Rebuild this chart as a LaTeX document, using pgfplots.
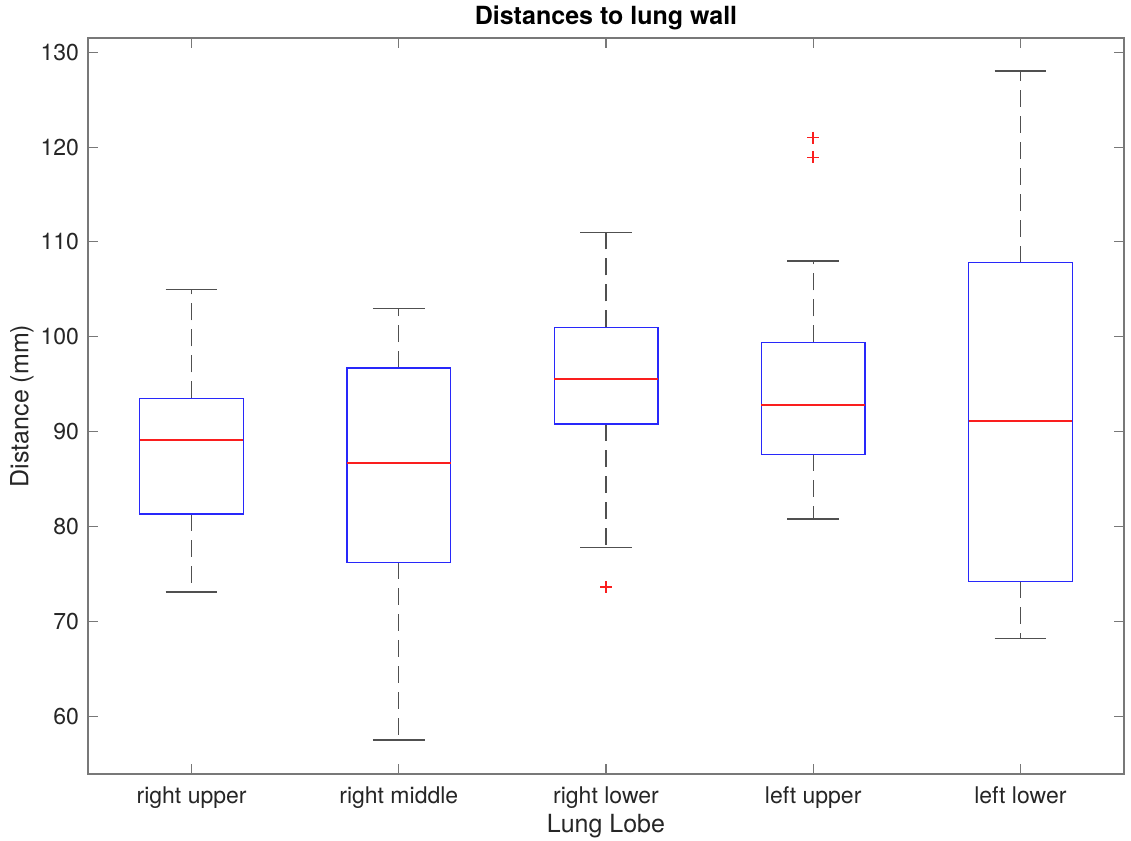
\documentclass[border=0pt]{standalone}
\usepackage{fontspec}
\setmainfont{TeX Gyre Heros}
\usepackage{pgfplots}
\pgfplotsset{compat=1.18}
\usepgfplotslibrary{statistics}
\definecolor{boxblue}{RGB}{40,40,250}
\definecolor{medred}{RGB}{250,30,30}
\definecolor{axgray}{RGB}{120,120,120}
\definecolor{whisk}{RGB}{80,80,80}

\pgfplotsset{
  % dashed whisker stem, solid cap
  boxplot/draw/lower whisker/.code={%
    \draw[whisk, line width=0.7pt, dash pattern=on 8.5pt off 4.5pt]
      (boxplot box cs:\pgfplotsboxplotvalue{lower quartile},0.5) --
      (boxplot box cs:\pgfplotsboxplotvalue{lower whisker},0.5);
    \draw[whisk, line width=0.7pt]
      (boxplot whisker cs:\pgfplotsboxplotvalue{lower whisker},0) --
      (boxplot whisker cs:\pgfplotsboxplotvalue{lower whisker},1);
  },
  boxplot/draw/upper whisker/.code={%
    \draw[whisk, line width=0.7pt, dash pattern=on 8.5pt off 4.5pt]
      (boxplot box cs:\pgfplotsboxplotvalue{upper quartile},0.5) --
      (boxplot box cs:\pgfplotsboxplotvalue{upper whisker},0.5);
    \draw[whisk, line width=0.7pt]
      (boxplot whisker cs:\pgfplotsboxplotvalue{upper whisker},0) --
      (boxplot whisker cs:\pgfplotsboxplotvalue{upper whisker},1);
  },
  lobe/.style={
    medred,
    boxplot/box extend=0.5,
    boxplot/whisker extend=0.25,
    boxplot/every box/.style={draw=boxblue, line width=0.7pt},
    boxplot/every median/.style={draw=medred, line width=1pt},
    mark=+, mark size=3pt, mark options={draw=medred, line width=0.9pt},
  },
}

\begin{document}
\begin{tikzpicture}
\useasboundingbox (-44pt,-33.5pt) rectangle (521.5pt,387pt);
\begin{axis}[
  at={(0,0)}, anchor=south west,
  width=518pt, height=368pt, scale only axis,
  boxplot/draw direction=y,
  xmin=0.5, xmax=5.5, ymin=53.9, ymax=131.5,
  xtick={1,2,3,4,5},
  xticklabels={right upper, right middle, right lower, left upper, left lower},
  ytick={60,70,...,130},
  tick align=inside,
  major tick length=5pt,
  axis line style={axgray, line width=0.55pt},
  every tick/.style={axgray, line width=0.55pt},
  /pgf/number format/assume math mode=true,
  ticklabel style={font=\fontsize{11.5}{13}\selectfont, black!85},
  xticklabel style={yshift=-3pt},
  yticklabel style={xshift=-1pt},
  xlabel={Lung Lobe},
  ylabel={Distance (mm)},
  xlabel style={at={([yshift=-26pt]axis description cs:0.5,0)}, anchor=center, font=\fontsize{12.5}{14}\selectfont, black!85},
  ylabel style={at={([xshift=-33pt]axis description cs:0,0.5)}, anchor=center, font=\fontsize{12.5}{14}\selectfont, black!85},
  title={\textbf{Distances to lung wall}},
  every axis title shift=0pt,
  title style={at={([yshift=10pt]axis description cs:0.5,1)}, anchor=center, font=\fontsize{12.5}{14}\selectfont},
]
\addplot[lobe, boxplot prepared={draw position=1,
  lower whisker=73.1, lower quartile=81.3, median=89.1,
  upper quartile=93.5, upper whisker=105.0}] coordinates {};
\addplot[lobe, boxplot prepared={draw position=2,
  lower whisker=57.5, lower quartile=76.2, median=86.7,
  upper quartile=96.7, upper whisker=103.0}] coordinates {};
\addplot[lobe, boxplot prepared={draw position=3,
  lower whisker=77.8, lower quartile=90.8, median=95.5,
  upper quartile=101.0, upper whisker=111.0}] coordinates {(0,73.6)};
\addplot[lobe, boxplot prepared={draw position=4,
  lower whisker=80.8, lower quartile=87.6, median=92.8,
  upper quartile=99.4, upper whisker=108.0}] coordinates {(0,118.9) (0,121.0)};
\addplot[lobe, boxplot prepared={draw position=5,
  lower whisker=68.2, lower quartile=74.2, median=91.1,
  upper quartile=107.8, upper whisker=128.0}] coordinates {};
\end{axis}
\end{tikzpicture}
\end{document}
